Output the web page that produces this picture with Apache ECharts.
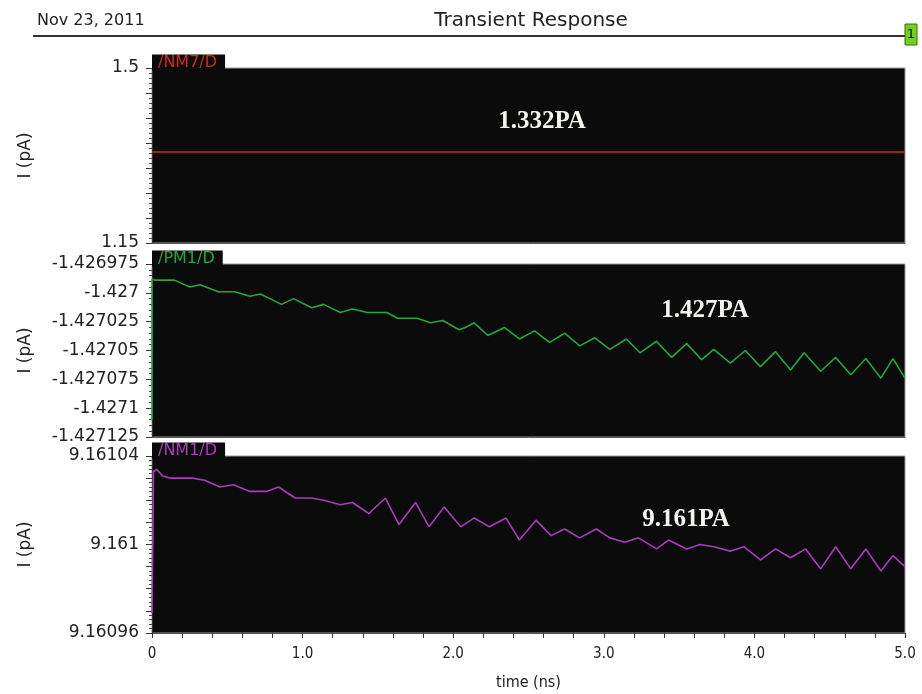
<!DOCTYPE html>
<html>
<head>
<meta charset="utf-8">
<script src="https://cdn.jsdelivr.net/npm/echarts@6/dist/echarts.min.js"></script>
<style>
  html, body { margin: 0; padding: 0; background: #fff; }
  #chart { width: 922px; height: 694px; }
</style>
</head>
<body>
<div id="chart"></div>
<script>
// valores (tempo em ns, corrente em pA)
var nm7Time = [0, 5];
var nm7Values = [1.332, 1.332];

var pm1Time = [0, 0, 0.02, 0.15, 0.25, 0.32, 0.44, 0.55, 0.65, 0.72, 0.86, 0.94, 1.06, 1.14, 1.25, 1.33,
  1.43, 1.56, 1.63, 1.76, 1.85, 1.93, 2.04, 2.08, 2.14, 2.23, 2.34, 2.44, 2.54, 2.64, 2.74, 2.84,
  2.94, 3.04, 3.15, 3.24, 3.35, 3.45, 3.55, 3.65, 3.73, 3.84, 3.94, 4.04, 4.14, 4.24, 4.33, 4.44,
  4.54, 4.64, 4.74, 4.84, 4.92, 5.0];
var pm1Values = [-1.42711, -1.426988, -1.426989, -1.426989, -1.426995, -1.426993, -1.426999, -1.426999,
  -1.427003, -1.427001, -1.427010, -1.427005, -1.427013, -1.427010, -1.427017, -1.427014,
  -1.427017, -1.427017, -1.427022, -1.427022, -1.427026, -1.427024, -1.427032, -1.427030,
  -1.427026, -1.427037, -1.427030, -1.427040, -1.427033, -1.427043, -1.427035, -1.427046,
  -1.427039, -1.427049, -1.427040, -1.427052, -1.427042, -1.427056, -1.427044, -1.427058,
  -1.427049, -1.427061, -1.427050, -1.427064, -1.427051, -1.427067, -1.427052, -1.427068,
  -1.427056, -1.427071, -1.427057, -1.427074, -1.427057, -1.427074];

var nm1Time = [0, 0.01, 0.03, 0.07, 0.12, 0.27, 0.35, 0.45, 0.54, 0.65, 0.76, 0.84, 0.95, 1.06, 1.14,
  1.25, 1.33, 1.44, 1.55, 1.64, 1.75, 1.84, 1.94, 2.05, 2.14, 2.24, 2.35, 2.44, 2.55, 2.65, 2.74,
  2.84, 2.95, 3.04, 3.14, 3.23, 3.35, 3.43, 3.55, 3.64, 3.73, 3.84, 3.93, 4.04, 4.14, 4.24, 4.34,
  4.44, 4.54, 4.64, 4.74, 4.84, 4.92, 5.0];
var nm1Values = [9.160969, 9.161033, 9.161034, 9.161031, 9.161030, 9.161030, 9.161029, 9.161026,
  9.161027, 9.161024, 9.161024, 9.161026, 9.161021, 9.161021, 9.161020, 9.161018, 9.161019,
  9.161014, 9.161021, 9.161009, 9.161019, 9.161008, 9.161017, 9.161008, 9.161012, 9.161008,
  9.161012, 9.161002, 9.161011, 9.161004, 9.161007, 9.161003, 9.161007, 9.161003, 9.161001,
  9.161003, 9.160998, 9.161002, 9.160998, 9.161000, 9.160999, 9.160997, 9.160999, 9.160993,
  9.160998, 9.160994, 9.160998, 9.160989, 9.160999, 9.160989, 9.160998, 9.160988, 9.160995,
  9.160990];

var xTicks = ['0', '1.0', '2.0', '3.0', '4.0', '5.0'];
var signalNames = ['/NM7/D', '/PM1/D', '/NM1/D'];
var signalColors = ['#d0281c', '#21a83c', '#a93cbc'];
var markerTexts = ['1.332PA', '1.427PA', '9.161PA'];

var sansFont = '"DejaVu Sans", sans-serif';
var condFont = '"DejaVu Sans Condensed", "DejaVu Sans", sans-serif';

function pares(xs, ys) {
  return xs.map(function (x, i) { return [x, ys[i]]; });
}

var grids = [
  { left: 152, right: 17, top: 68, height: 175 },
  { left: 152, right: 17, top: 264, height: 173 },
  { left: 152, right: 17, top: 456, height: 177 }
];
grids.forEach(function (g) {
  g.show = true;
  g.backgroundColor = '#0b0b0b';
  g.borderColor = '#9a9a9a';
  g.borderWidth = 1;
});

// eixo x so com rotulos no ultimo painel
var xAxes = [0, 1, 2].map(function (i) {
  return {
    type: 'value', gridIndex: i, min: 0, max: 5, interval: 0.2,
    axisLine: { show: true, lineStyle: { color: '#555' } },
    axisTick: { show: i === 2, length: 5, lineStyle: { color: '#333' } },
    splitLine: { show: false },
    axisLabel: {
      show: i === 2, color: '#222', fontSize: 15, fontFamily: condFont, margin: 14,
      formatter: function (v) {
        var k = Math.round(v);
        if (Math.abs(v - k) > 1e-6) return '';
        return xTicks[k];
      }
    },
    name: i === 2 ? 'time (ns)' : '',
    nameLocation: 'middle', nameGap: 42,
    nameTextStyle: { color: '#222', fontSize: 16, fontFamily: condFont }
  };
});

function eixoY(i, min, max, step, every, casas) {
  return {
    type: 'value', gridIndex: i, min: min, max: max, interval: step,
    name: 'I (pA)', nameLocation: 'middle', nameGap: 118,
    nameTextStyle: { color: '#222', fontSize: 17, fontFamily: sansFont },
    axisLine: { show: true, lineStyle: { color: '#333' } },
    axisTick: { show: true, length: 6, lineStyle: { color: '#333' } },
    minorTick: { show: true, splitNumber: 5, length: 3, lineStyle: { color: '#444' } },
    splitLine: { show: false },
    axisLabel: {
      color: '#222', fontSize: 17, fontFamily: sansFont, margin: 13,
      showMinLabel: true, showMaxLabel: true,
      formatter: function (v) {
        var idx = Math.round((v - min) / step);
        var ultimo = Math.round((max - min) / step);
        if (idx % every !== 0 && idx !== ultimo) return '';
        return String(parseFloat(v.toFixed(casas)));
      }
    }
  };
}

var yAxes = [
  eixoY(0, 1.15, 1.5, 0.05, 7, 2),
  eixoY(1, -1.427125, -1.426975, 0.000025, 1, 6),
  eixoY(2, 9.16096, 9.16104, 0.00001, 4, 5)
];

var tabTops = [56, 252, 444];
var titles = [
  { text: 'Nov 23, 2011', left: 32, top: 8,
    textStyle: { color: '#222', fontSize: 16, fontWeight: 'normal', fontFamily: sansFont } },
  { text: 'Transient Response', left: 526, top: 6, textAlign: 'center',
    textStyle: { color: '#222', fontSize: 20, fontWeight: 'normal', fontFamily: sansFont } }
];
signalNames.forEach(function (n, i) {
  titles.push({
    text: n, left: 152, top: tabTops[i], padding: [0, 8, 0, 6],
    backgroundColor: '#0b0b0b',
    textStyle: { color: signalColors[i], fontSize: 16, fontWeight: 'normal',
      fontFamily: sansFont, lineHeight: 13 }
  });
});

var markerPos = [[542, 122], [705, 311], [686, 520]];
var graphics = [
  { type: 'line', shape: { x1: 33, y1: 36, x2: 906, y2: 36 },
    style: { stroke: '#333', lineWidth: 2 } },
  { type: 'rect', shape: { x: 905, y: 24, width: 12, height: 21 },
    style: { fill: '#6fd11c', stroke: '#3a6b10', lineWidth: 1 } },
  { type: 'text', x: 911, y: 35,
    style: { text: '1', fill: '#111', font: '13px ' + sansFont, align: 'center', verticalAlign: 'middle' } }
];
markerTexts.forEach(function (t, i) {
  graphics.push({
    type: 'text', x: markerPos[i][0], y: markerPos[i][1],
    style: {
      text: t, fill: '#f4f4f0', align: 'center', verticalAlign: 'middle',
      font: 'bold 25px "Liberation Serif", "DejaVu Serif", serif',
      shadowColor: '#c8a060', shadowBlur: 3
    }
  });
});

var allData = [pares(nm7Time, nm7Values), pares(pm1Time, pm1Values), pares(nm1Time, nm1Values)];
var series = allData.map(function (d, i) {
  return {
    name: signalNames[i], type: 'line', xAxisIndex: i, yAxisIndex: i,
    data: d, showSymbol: false, symbol: 'none',
    lineStyle: { color: signalColors[i], width: 1.6 },
    itemStyle: { color: signalColors[i] }
  };
});

var myChart = echarts.init(document.getElementById('chart'));
myChart.setOption({
  backgroundColor: '#ffffff',
  animation: false,
  title: titles,
  grid: grids,
  xAxis: xAxes,
  yAxis: yAxes,
  graphic: graphics,
  series: series
});
</script>
</body>
</html>
